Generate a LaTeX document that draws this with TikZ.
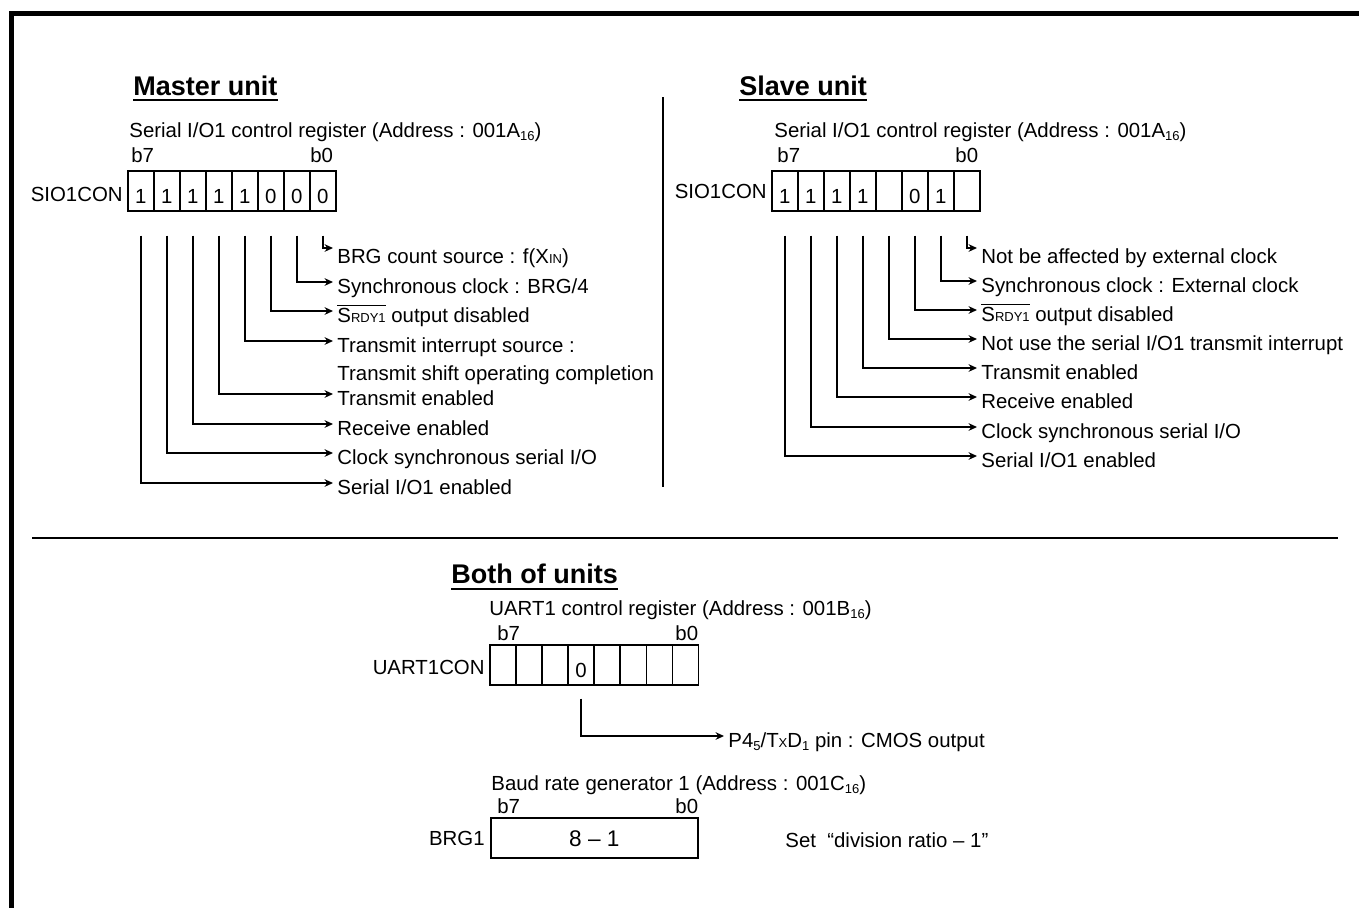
\documentclass[tikz,border=0pt]{standalone}
\usepackage{fontspec}
\setmainfont{Liberation Sans}
\usetikzlibrary{arrows.meta, positioning}
\newcommand{\sm}[1]{{\fontsize{6.5}{7}\selectfont #1}}
\newcommand{\lo}[1]{\raisebox{-0.25ex}{\fontsize{6.5}{7}\selectfont #1}}
\newcommand{\srdy}{$\overline{\hbox{S\sm{RDY1}}}$}

\begin{document}
\begin{tikzpicture}[
    x=0.5pt, y=-0.5pt,
    lbl/.style={inner sep=0pt, anchor=west, text height=7.3pt, text depth=0pt, font=\fontsize{10.2}{12}\selectfont},
    desc/.style={lbl, inner xsep=2pt},
    ttl/.style={inner sep=0pt, anchor=west, text height=9.7pt, text depth=0pt, font=\fontsize{13.5}{16}\selectfont\bfseries},
    cell/.style={draw, line width=0.8pt, minimum width=13pt, minimum height=20pt, inner sep=0pt, anchor=north west, text height=12.7pt, text depth=0pt, font=\fontsize{10.2}{12}\selectfont},
    bitline/.style={line width=0.75pt, -{Stealth[length=4.2pt,width=3.8pt]}},
    uline/.style={line width=1pt}
]
\useasboundingbox (0,0) rectangle (1359,907);

% frame and separators
\draw[line width=2.5pt] (11.5,920) -- (11.5,13.5) -- (1370,13.5);
\draw[line width=0.9pt] (663,97) -- (663,487);
\draw[line width=1.2pt] (32,538) -- (1338,538);

% ---- Master unit ----
\node[ttl] (ttlm) at (133,86) {Master unit};
\draw[uline] ([yshift=-1.8pt]ttlm.south west) -- ([yshift=-1.8pt]ttlm.south east);
\node[lbl] (capm) at (129,130) {Serial I/O1 control register (Address : 001A\lo{16})};
\node[lbl] (b7m) at (131,155) {b7};
\node[lbl] (b0m) at (310,155) {b0};
\foreach \v [count=\i from 0] in {1,1,1,1,1,0,0,0}
  \node[cell] (m\i) at ({127+26*\i},170) {\v};
\node[lbl, left=2pt of m0, yshift=-1.8pt] (regm) {SIO1CON};

\node[desc] (tm0) at (333,256) {BRG count source : f(X\sm{IN})};
\node[desc] (tm1) at (333,286) {Synchronous clock : BRG/4};
\node[desc] (tm2) at (333,315) {\srdy{} output disabled};
\node[desc] (tm3) at (333,345) {Transmit interrupt source :};
\node[desc] (tm3b) at (333,373) {Transmit shift operating completion};
\node[desc] (tm4) at (333,398) {Transmit enabled};
\node[desc] (tm5) at (333,428) {Receive enabled};
\node[desc] (tm6) at (333,457) {Clock synchronous serial I/O};
\node[desc] (tm7) at (333,487) {Serial I/O1 enabled};

\draw[bitline] ([yshift=-12pt]m7.south) |- ([yshift=4pt]tm0.west);
\foreach \b/\c in {1/6,2/5,3/4,4/3,5/2,6/1,7/0}
  \draw[bitline] ([yshift=-12pt]m\c.south) |- ([yshift=2pt]tm\b.west);

% ---- Slave unit ----
\node[ttl] (ttls) at (739,86) {Slave unit};
\draw[uline] ([yshift=-1.8pt]ttls.south west) -- ([yshift=-1.8pt]ttls.south east);
\node[lbl] (caps) at (774,130) {Serial I/O1 control register (Address : 001A\lo{16})};
\node[lbl] (b7s) at (777,155) {b7};
\node[lbl] (b0s) at (955,155) {b0};
\foreach \v [count=\i from 0] in {1,1,1,1,{},0,1,{}}
  \node[cell] (s\i) at ({771+26*\i},170) {\v};
\node[lbl, left=2pt of s0, yshift=-0.3pt] (regs) {SIO1CON};

\node[desc] (ts0) at (977,256) {Not be affected by external clock};
\node[desc] (ts1) at (977,285) {Synchronous clock : External clock};
\node[desc] (ts2) at (977,314) {\srdy{} output disabled};
\node[desc] (ts3) at (977,343) {Not use the serial I/O1 transmit interrupt};
\node[desc] (ts4) at (977,372) {Transmit enabled};
\node[desc] (ts5) at (977,401) {Receive enabled};
\node[desc] (ts6) at (977,431) {Clock synchronous serial I/O};
\node[desc] (ts7) at (977,460) {Serial I/O1 enabled};

\draw[bitline] ([yshift=-12pt]s7.south) |- ([yshift=4pt]ts0.west);
\foreach \b/\c in {1/6,2/5,3/4,4/3,5/2,6/1,7/0}
  \draw[bitline] ([yshift=-12pt]s\c.south) |- ([yshift=2pt]ts\b.west);

% ---- Both of units ----
\node[ttl] (ttlb) at (451,574) {Both of units};
\draw[uline] ([yshift=-2.2pt]ttlb.south west) -- ([yshift=-2.2pt]ttlb.south east);
\node[lbl] (capu) at (489,608) {UART1 control register (Address : 001B\lo{16})};
\node[lbl] (b7u) at (497,633) {b7};
\node[lbl] (b0u) at (675,633) {b0};
\foreach \v [count=\i from 0] in {{},{},{},0,{},{},{},{}}
  \node[cell] (u\i) at ({489+26.1*\i},644) {\v};
\node[lbl, left=2pt of u0, yshift=-1pt] (regu) {UART1CON};
\node[desc] (tu4) at (724,740) {P4\lo{5}/T\sm{X}D\lo{1} pin : CMOS output};
\draw[bitline] ([yshift=-6.5pt]u3.south) |- ([yshift=2pt]tu4.west);

\node[lbl] (capb) at (491,783) {Baud rate generator 1 (Address : 001C\lo{16})};
\node[lbl] (b7b) at (497,806) {b7};
\node[lbl] (b0b) at (675,806) {b0};
\node[draw, line width=0.8pt, minimum width=103.5pt, minimum height=20pt, inner sep=0pt, anchor=north west, text height=9pt, text depth=0pt, font=\fontsize{11.3}{13}\selectfont] (brg) at (490,817) {8 -- 1};
\node[lbl, left=2.5pt of brg] (regb) {BRG1};
\node[lbl] (setb) at (785,840) {Set \ ``division ratio -- 1''};
\end{tikzpicture}
\end{document}
